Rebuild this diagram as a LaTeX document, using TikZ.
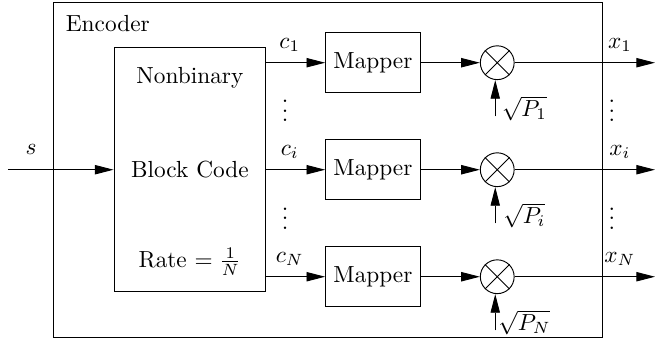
\documentclass[tikz,border=0pt]{standalone}
\usetikzlibrary{arrows.meta}
\begin{document}
\begin{tikzpicture}[>={Triangle[length=8pt,width=4pt]},
	mapbox/.style={draw, minimum width=1.39cm, minimum height=0.905cm},
	multnode/.style={draw, circle, minimum size=0.51cm, inner sep=0pt}]
\useasboundingbox (0,-2.61) rectangle (9.94,2.56);
\node[draw, minimum width=8.28cm, minimum height=5.05cm] (enc) at (4.94,-0.005) {};
\node[anchor=north west, inner sep=5.5pt] (enclabel) at (enc.north west) {Encoder};
\node[draw, minimum width=2.29cm, minimum height=3.68cm] (code) at (2.865,0) {};
\node (nb) at (2.865,1.39) {Nonbinary};
\node (bc) at (2.865,0) {Block Code};
\node (rate) at (2.865,-1.39) {Rate $=\frac{1}{N}$};
\coordinate (in) at (0.12,0);
\draw[->] (in) -- (code.west);
\node (s) at (0.47,0.30) {$s$};
\foreach \y/\k [count=\n] in {1.614/1, 0/i, -1.614/N}
{
	\node[mapbox] (map\n) at (5.625,\y) {Mapper};
	\node[multnode] (mul\n) at (7.50,\y) {};
	\draw (mul\n.north west) -- (mul\n.south east) (mul\n.north east) -- (mul\n.south west);
	\draw[->] (code.east |- map\n) -- (map\n);
	\draw[->] (map\n) -- (mul\n);
	\coordinate (out\n) at (9.88,\y);
	\draw[->] (mul\n) -- (out\n);
	\coordinate (pw\n) at (7.47,\y-0.81);
	\draw[->] (pw\n) -- (pw\n |- mul\n.south);
	\node (c\n) at (4.37,\y+0.27) {$c_\k$};
	\node (x\n) at (9.35,\y+0.27) {$x_\k$};
	\node (sq\n) at (7.91,\y-0.69) {$\sqrt{P_\k}$};
}
\foreach \y [count=\n] in {0.99, -0.63}
{
	\node (cd\n) at (4.30,\y) {$\vdots$};
	\node (xd\n) at (9.23,\y) {$\vdots$};
}
\end{tikzpicture}
\end{document}
